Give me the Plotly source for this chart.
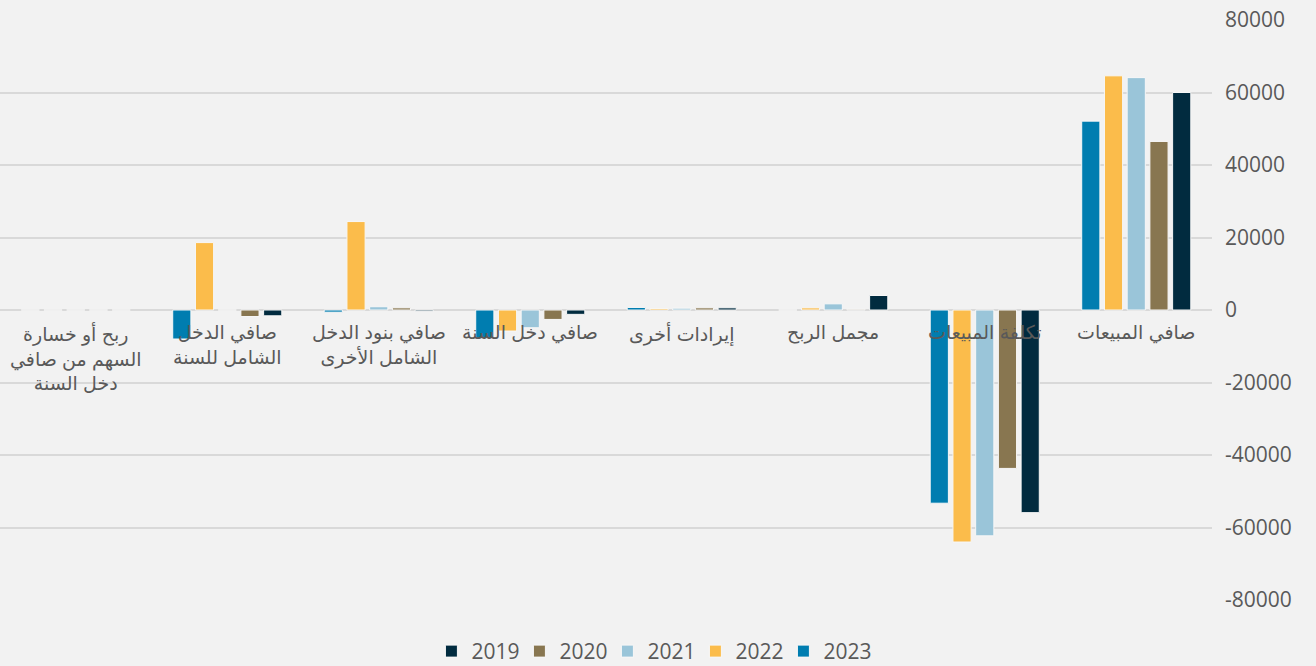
import plotly.graph_objects as go

categories = ['صافي المبيعات', 'تكلفة المبيعات', 'مجمل الربح', 'إيرادات أخرى',
              'صافي دخل السنة', 'صافي بنود الدخل الشامل الأخرى',
              'صافي الدخل الشامل للسنة', 'ربح أو خسارة السهم من صافي دخل السنة']
labels = ['صافي المبيعات', 'تكلفة المبيعات', 'مجمل الربح', 'إيرادات أخرى',
          'صافي دخل السنة', 'صافي بنود الدخل<br>الشامل الأخرى',
          'صافي الدخل<br>الشامل للسنة', 'ربح أو خسارة<br>السهم من صافي<br>دخل السنة']

years = ['2019', '2020', '2021', '2022', '2023']
v2019 = [60000, -55900, 4000, 600, -1200, -300, -1600, 0]
v2020 = [46500, -43700, 200, 600, -2600, 600, -1800, 0]
v2021 = [64100, -62300, 1700, 500, -4900, 900, 0, 0]
v2022 = [64600, -64000, 600, 400, -5800, 24400, 18600, 0]
v2023 = [52100, -53300, 0, 700, -7800, -600, -8000, 0]
values = [v2019, v2020, v2021, v2022, v2023]
colors = ['#012b3f', '#887650', '#9ac5d9', '#fbbc4b', '#007db0']

y_ticks = [-80000, -60000, -40000, -20000, 0, 20000, 40000, 60000, 80000]
y_tick_text = ['-80000', '-60000', '-40000', '-20000', '0',
               '20000', '40000', '60000', '80000']

fig = go.Figure()
for yr, vals, col in zip(years, values, colors):
    fig.add_trace(go.Bar(x=categories, y=vals, name=yr,
                         marker=dict(color=col, line=dict(color='#f7f7f7', width=1))))

# category labels sit next to the zero line, like the original
for cat, lab in zip(categories, labels):
    fig.add_annotation(x=cat, y=0, text=lab, showarrow=False, yanchor='top',
                       yshift=-10, font=dict(size=19, color='#595959'))

fig.update_layout(
    width=1316, height=666,
    barmode='group', bargap=0.25, bargroupgap=0.2,
    paper_bgcolor='#f2f2f2', plot_bgcolor='#f2f2f2',
    margin=dict(l=0, r=104, t=20, b=66, autoexpand=False),
    font=dict(family='Arial, DejaVu Sans, sans-serif', color='#595959'),
    legend=dict(orientation='h', xref='container', x=0.495, xanchor='center',
                yref='container', y=0.0526, yanchor='top', entrywidth=43,
                font=dict(family='Open Sans', size=21, color='#595959'),
                traceorder='normal'),
    xaxis=dict(autorange='reversed', showticklabels=False, showgrid=False,
               zeroline=False, showline=False),
    yaxis=dict(side='right', range=[-80000, 80000], tickvals=y_ticks,
               ticktext=y_tick_text, gridcolor='#d9d9d9', gridwidth=2,
               zeroline=True, zerolinecolor='#d9d9d9', zerolinewidth=2,
               tickfont=dict(family='Open Sans', size=21, color='#595959'),
               ticklabelstandoff=12),
)

fig.write_html("out.html", config={'displayModeBar': False},
               post_script="document.body.style.margin='0';")
